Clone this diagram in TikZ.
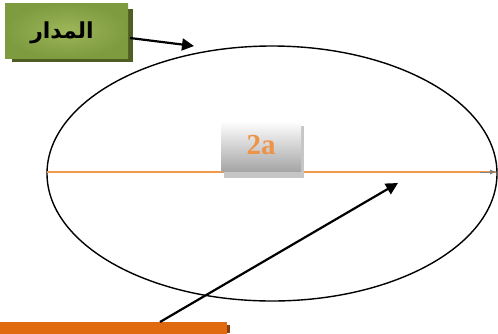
\documentclass[tikz,border=0pt]{standalone}
\usepackage{fontspec}
\setmainfont{Liberation Serif}
\newfontfamily\arabicfont[Script=Arabic]{DejaVu Sans}
\TeXXeTstate=1
\usetikzlibrary{arrows.meta,shadows,shapes.geometric}
\definecolor{olivebox}{HTML}{7E9B3F}
\definecolor{olivein}{HTML}{9DB65A}
\definecolor{oliveshadow}{HTML}{4E5E22}
\definecolor{orangeline}{HTML}{F39A4A}
\definecolor{orangebox}{HTML}{E06A10}
\definecolor{orangetxt}{HTML}{EE9448}
\tikzset{
  labelbox/.style={draw=none, inner sep=0pt, outer sep=0pt},
  pointer/.style={line width=2.2pt, -{Triangle[length=12pt,width=12pt]}},
}
\begin{document}
\begin{tikzpicture}[x=1pt,y=-1pt]
\useasboundingbox (0,0) rectangle (498,333);
\fill[white] (0,0) rectangle (498,333);
% ellipse
\node[draw=black, line width=1.4pt, ellipse, minimum width=450pt, minimum height=255pt, inner sep=0pt] (orbit) at (272,173.5) {};
% green label box
\fill[oliveshadow] (12,9) rectangle (133,62);
\node[labelbox, minimum width=123pt, minimum height=55pt, inner color=olivein, outer color=olivebox, shading=radial, anchor=north west] (madar) at (5,3) {};
\node[font=\arabicfont\bfseries\fontsize{22}{26}\selectfont] (madartxt) at (62,33) {\beginR المدار\endR};
\coordinate (orbittop) at (194,46);
\coordinate (ms) at (130,38);
\draw[pointer] (ms) -- (orbittop);
% major axis
\coordinate (axl) at (47,172);
\coordinate (axr) at (496,172);
\draw[orangeline, line width=2.2pt] (axl) -- (axr);
\draw[gray, -{Latex[length=6pt,width=5pt]}] (480,172) -- (axr);
% 2a box
\fill[gray!45] (224,126) rectangle (304,178);
\node[labelbox, minimum width=80pt, minimum height=50pt, top color=white, bottom color=gray!70, anchor=north west] (twoa) at (221,121) {};
\node[font=\bfseries\fontsize{29}{32}\selectfont, text=orangetxt] at (261,145) {2a};
% bottom orange box
\fill[orangebox!60!black] (4,325) rectangle (230,333);
\node[labelbox, fill=orangebox, minimum width=227pt, minimum height=12pt, anchor=north west] (focus) at (0,322) {};
\coordinate (fs) at (160,322);
\coordinate (ft) at (398,183);
\draw[pointer] (fs) -- (ft);
\end{tikzpicture}
\end{document}
